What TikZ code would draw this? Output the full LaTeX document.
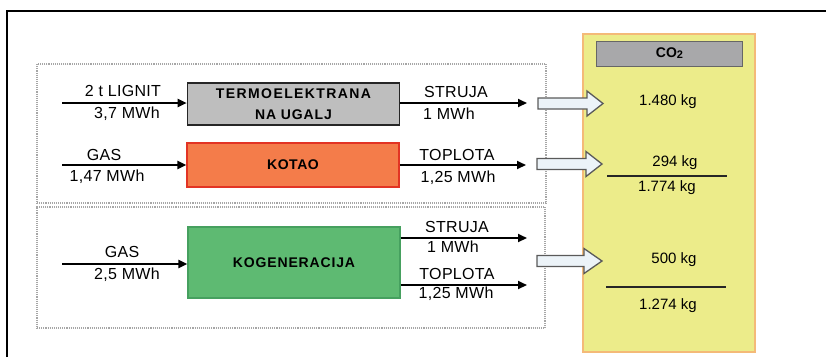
\documentclass[tikz,border=0pt]{standalone}
\usepackage{fontspec}
\setmainfont{Liberation Sans}
\newfontfamily\labelfont[LetterSpace=2]{Liberation Sans}
\newfontfamily\boxfont[LetterSpace=6]{Liberation Sans}
\usetikzlibrary{arrows.meta}

\definecolor{coalgray}{RGB}{190,190,190}
\definecolor{boilerfill}{RGB}{244,124,74}
\definecolor{boilerline}{RGB}{226,52,36}
\definecolor{chpfill}{RGB}{94,186,114}
\definecolor{chpline}{RGB}{70,160,95}
\definecolor{co2fill}{RGB}{236,236,138}
\definecolor{co2line}{RGB}{244,186,120}
\definecolor{headfill}{RGB}{168,168,170}
\definecolor{hollowfill}{RGB}{236,243,248}
\definecolor{hollowline}{RGB}{90,90,90}

\tikzset{
  plant/.style={draw, line width=1.6pt, minimum width=212pt, inner sep=0pt,
    align=center, font=\boxfont\bfseries\fontsize{14}{21}\selectfont},
  flow/.style={line width=2pt, -{Triangle[length=9pt,width=8pt]}},
  flowlabel/.style={inner sep=0pt, font=\labelfont\fontsize{16}{18}\selectfont},
  kg/.style={inner sep=0pt, font=\fontsize{15}{17}\selectfont},
  group/.style={draw=gray!70, densely dotted, line width=1.1pt},
  hollow/.style={draw=hollowline, fill=hollowfill, line width=1.3pt, line join=miter},
  sumline/.style={line width=1.2pt, draw=black!85}
}

\begin{document}
\begin{tikzpicture}[x=1pt,y=-1pt]
\useasboundingbox (0,0) rectangle (826,357);

% page frame corner
\draw[line width=1.4pt] (7,357) -- (7,11) -- (826,11);

% CO2 column
\node[draw=co2line, fill=co2fill, line width=2pt, minimum width=172pt,
  minimum height=318pt, inner sep=0pt] (co2) at (668.5,192.5) {};
\node[draw=gray!80!black, fill=headfill, line width=0.8pt, minimum width=146pt,
  minimum height=25pt, inner sep=0pt, font=\bfseries\fontsize{14}{16}\selectfont]
  (co2head) at (669.5,53.5) {CO\raisebox{-1pt}{\fontsize{11}{12}\selectfont 2}};

% grouping frames
\node[group, minimum width=509pt, minimum height=139pt, inner sep=0pt] (groupA) at (291.5,133.5) {};
\node[group, minimum width=508pt, minimum height=121pt, inner sep=0pt] (groupB) at (291,267.5) {};

% plants
\node[plant, fill=coalgray, draw=black!85, minimum height=42pt] (coal) at (293.5,104)
  {\addfontfeature{LetterSpace=10}TERMOELEKTRANA\\NA UGALJ};
\node[plant, fill=boilerfill, draw=boilerline, line width=1.2pt, minimum height=44pt] (boiler) at (293,165)
  {\addfontfeature{LetterSpace=4}KOTAO};
\node[plant, fill=chpfill, draw=chpline, line width=1.2pt, minimum height=71pt] (chp) at (294,262.5) {KOGENERACIJA};

% inputs
\coordinate (inA) at (62,103);
\coordinate (inB) at (62,165);
\coordinate (inC) at (62,264);
\draw[flow] (inA) -- (coal.west |- inA);
\draw[flow] (inB) -- (boiler.west |- inB);
\draw[flow] (inC) -- (chp.west |- inC);
\node[flowlabel] (inAtop) at (123,91) {2 t LIGNIT};
\node[flowlabel] (inAbot) at (127,114) {3,7 MWh};
\node[flowlabel] (inBtop) at (104,155) {GAS};
\node[flowlabel] (inBbot) at (107,177) {1,47 MWh};
\node[flowlabel] (inCtop) at (122,252) {GAS};
\node[flowlabel] (inCbot) at (127,275) {2,5 MWh};

% outputs
\coordinate (outA) at (527,103);
\coordinate (outB) at (526,165);
\coordinate (outC) at (527,238);
\coordinate (outD) at (527,285);
\draw[flow] (coal.east |- outA) -- (outA);
\draw[flow] (boiler.east |- outB) -- (outB);
\draw[flow] (chp.east |- outC) -- (outC);
\draw[flow] (chp.east |- outD) -- (outD);
\node[flowlabel] (outAtop) at (456,92) {STRUJA};
\node[flowlabel] (outAbot) at (449,114) {1 MWh};
\node[flowlabel] (outBtop) at (457,155) {TOPLOTA};
\node[flowlabel] (outBbot) at (458,178) {1,25 MWh};
\node[flowlabel] (outCtop) at (457,227) {STRUJA};
\node[flowlabel] (outCbot) at (453,247) {1 MWh};
\node[flowlabel] (outDtop) at (457,274) {TOPLOTA};
\node[flowlabel] (outDbot) at (456,294) {1,25 MWh};

% hollow arrows into the CO2 column
\foreach \yy/\tail/\hs/\tip in {103.5/538/587/603, 164/537/586/602, 261/537/584/602}{
  \draw[hollow] (\tail,\yy-5.5) -- (\hs,\yy-5.5) -- (\hs,\yy-12.5) -- (\tip,\yy)
    -- (\hs,\yy+12.5) -- (\hs,\yy+5.5) -- (\tail,\yy+5.5) -- cycle;
}

% emissions
\node[kg] (kgA) at (668,102) {1.480 kg};
\node[kg] (kgB) at (675,163) {294 kg};
\coordinate (sumBl) at (607,176);
\coordinate (sumBr) at (727,176);
\draw[sumline] (sumBl) -- (sumBr);
\node[kg] (kgBsum) at (667,188) {1.774 kg};
\node[kg] (kgC) at (674,260) {500 kg};
\coordinate (sumCl) at (606,287);
\coordinate (sumCr) at (726,287);
\draw[sumline] (sumCl) -- (sumCr);
\node[kg] (kgCsum) at (668,306) {1.274 kg};
\end{tikzpicture}
\end{document}
